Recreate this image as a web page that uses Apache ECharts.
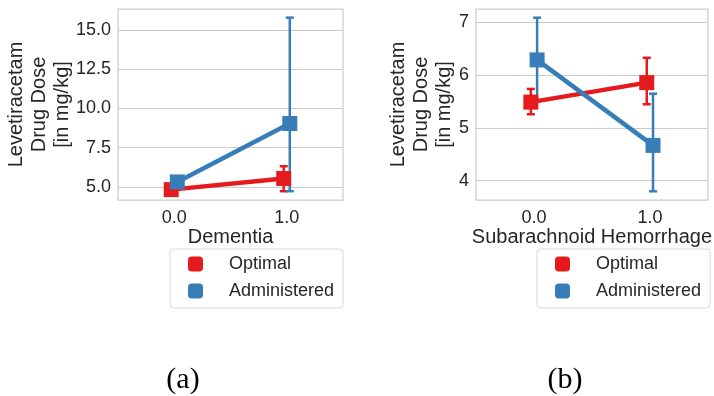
<!DOCTYPE html>
<html><head><meta charset="utf-8">
<script src="https://cdn.jsdelivr.net/npm/echarts@6/dist/echarts.min.js"></script>
<style>html,body{margin:0;padding:0;background:#fff}#c{width:714px;height:396px}</style>
</head><body><div id="c"></div>
<script>
// ---- data ----
const categories = [0, 1];
const seriesNames = ['Optimal', 'Administered'];
const xNames = ['Dementia', 'Subarachnoid Hemorrhage'];
const yName = 'Levetiracetam\nDrug Dose\n[in mg/kg]';
const panelLabels = ['(a)', '(b)'];
const ticksA = [5, 7.5, 10, 12.5, 15];
const ticksB = [4, 5, 6, 7];
// panel (a): Dementia
const optimalA = [4.83, 5.54];
const optimalALow = [4.70, 4.73];
const optimalAHigh = [4.97, 6.32];
const administeredA = [5.32, 9.04];
const administeredALow = [5.12, 4.73];
const administeredAHigh = [5.52, 15.78];
// panel (b): Subarachnoid Hemorrhage
const optimalB = [5.49, 5.86];
const optimalBLow = [5.26, 5.45];
const optimalBHigh = [5.74, 6.33];
const administeredB = [6.29, 4.67];
const administeredBLow = [5.53, 3.80];
const administeredBHigh = [7.09, 5.65];

const RED = '#e41a1c', BLUE = '#377eb8';
const TXT = '#262626';
const FONT = 'Liberation Sans';
const dodge = 0.027;

function pts(vals, off) { return categories.map((c, i) => [c + off, vals[i]]); }
function errs(lo, hi, off) { return categories.map((c, i) => [c + off, lo[i], hi[i]]); }
function errRender(color) {
  return function (params, api) {
    const x = api.value(0), lo = api.value(1), hi = api.value(2);
    const a = api.coord([x, lo]), b = api.coord([x, hi]);
    const cw = 4;
    const st = { stroke: color, lineWidth: 2.5 };
    return { type: 'group', children: [
      { type: 'line', shape: { x1: a[0], y1: a[1], x2: b[0], y2: b[1] }, style: st },
      { type: 'line', shape: { x1: a[0] - cw, y1: a[1], x2: a[0] + cw, y2: a[1] }, style: st },
      { type: 'line', shape: { x1: b[0] - cw, y1: b[1], x2: b[0] + cw, y2: b[1] }, style: st }
    ]};
  };
}

function xAxisFor(i) {
  return {
    gridIndex: i, type: 'value', min: -0.5, max: 1.5, interval: 0.5,
    axisLine: { show: false }, axisTick: { show: false }, splitLine: { show: false },
    axisLabel: {
      fontSize: 18, color: TXT, fontFamily: FONT, margin: 9,
      formatter: v => categories.some(c => Math.abs(c - v) < 1e-9) ? v.toFixed(1) : ''
    },
    name: xNames[i], nameLocation: 'middle', nameGap: 27, nameMoveOverlap: false,
    nameTextStyle: { fontSize: 20, color: TXT, fontFamily: FONT }
  };
}
function yAxisFor(i, min, max, ticks, fmt, gap) {
  return {
    gridIndex: i, type: 'value', min: min, max: max,
    axisLine: { show: false },
    axisTick: { show: false, customValues: ticks },
    axisLabel: { customValues: ticks, formatter: fmt, fontSize: 18, color: TXT, fontFamily: FONT, margin: 7 },
    splitLine: { show: true, lineStyle: { color: '#cccccc', width: 1 } },
    name: yName, nameLocation: 'middle', nameRotate: 90, nameGap: gap, nameMoveOverlap: false,
    nameTextStyle: { fontSize: 20, lineHeight: 23, color: TXT, fontFamily: FONT }
  };
}
function seriesFor(i, opt, optLo, optHi, adm, admLo, admHi) {
  const common = { xAxisIndex: i, yAxisIndex: i };
  return [
    Object.assign({ type: 'custom', name: 'Optimal CI', renderItem: errRender(RED), data: errs(optLo, optHi, -dodge), silent: true }, common),
    Object.assign({ type: 'line', name: seriesNames[0], data: pts(opt, -dodge), symbol: 'rect', symbolSize: 15,
      lineStyle: { width: 4.5, color: RED }, itemStyle: { color: RED } }, common),
    Object.assign({ type: 'custom', name: 'Administered CI', renderItem: errRender(BLUE), data: errs(admLo, admHi, dodge), silent: true }, common),
    Object.assign({ type: 'line', name: seriesNames[1], data: pts(adm, dodge), symbol: 'rect', symbolSize: 15,
      lineStyle: { width: 4.5, color: BLUE }, itemStyle: { color: BLUE } }, common)
  ];
}
function legendFor(left) {
  return {
    left: left, top: 249, orient: 'vertical', data: seriesNames, icon: 'roundRect',
    itemWidth: 15, itemHeight: 15, itemGap: 9, padding: [6, 9, 8, 18],
    borderColor: '#d9d9d9', borderWidth: 1, borderRadius: 4, backgroundColor: '#fff',
    selectedMode: false,
    textStyle: { fontSize: 18, color: TXT, fontFamily: FONT, padding: [0, 0, 0, 21] }
  };
}

const chart = echarts.init(document.getElementById('c'));
chart.setOption({
  animation: false,
  textStyle: { fontFamily: FONT },
  grid: [
    { left: 118, top: 9, width: 225, height: 191, show: true, borderColor: '#cccccc', borderWidth: 1.25, containLabel: false },
    { left: 476, top: 9, width: 234, height: 191, show: true, borderColor: '#cccccc', borderWidth: 1.25, containLabel: false }
  ],
  xAxis: [xAxisFor(0), xAxisFor(1)],
  yAxis: [
    yAxisFor(0, 4.17, 16.33, ticksA, v => v.toFixed(1), 44),
    yAxisFor(1, 3.635, 7.255, ticksB, v => String(v), 20)
  ],
  legend: [legendFor(170), legendFor(537)],
  series: [].concat(
    seriesFor(0, optimalA, optimalALow, optimalAHigh, administeredA, administeredALow, administeredAHigh),
    seriesFor(1, optimalB, optimalBLow, optimalBHigh, administeredB, administeredBLow, administeredBHigh)
  ),
  graphic: [
    { type: 'text', x: 183, y: 380, style: { text: panelLabels[0], font: '30px "Liberation Serif"', fill: '#000', align: 'center', verticalAlign: 'middle' } },
    { type: 'text', x: 565, y: 380, style: { text: panelLabels[1], font: '30px "Liberation Serif"', fill: '#000', align: 'center', verticalAlign: 'middle' } }
  ]
});
</script>
</body></html>
